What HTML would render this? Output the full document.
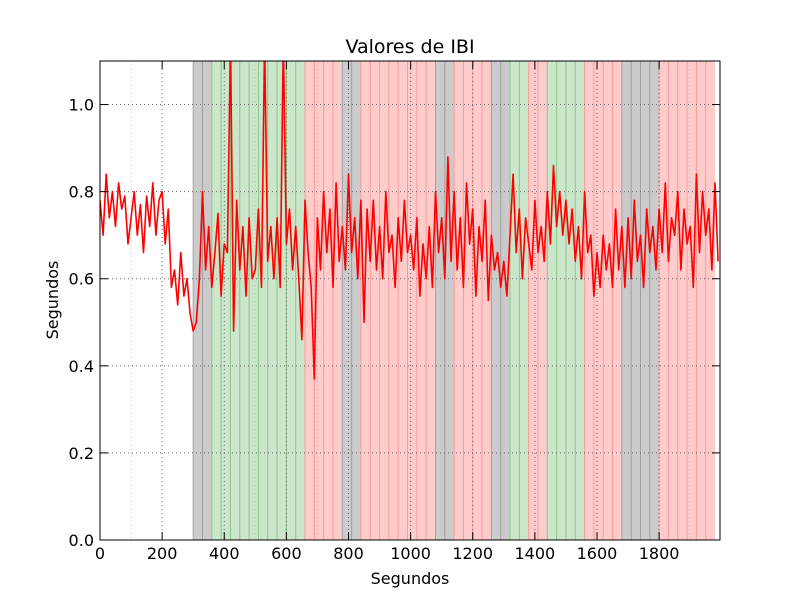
<!DOCTYPE html>
<html><head><meta charset="utf-8"><style>
body{margin:0;background:#fff;}
svg text{font-family:"DejaVu Sans","Liberation Sans",sans-serif;}
</style></head><body>
<svg id="chart" width="800" height="600" viewBox="0 0 800 600">
<rect width="800" height="600" fill="#fff"/>
<defs><clipPath id="clip"><rect x="100" y="61" width="620" height="479"/></clipPath></defs>
<g id="bands" clip-path="url(#clip)"></g>
<g id="grid"></g>
<g id="line" clip-path="url(#clip)"></g>
<rect x="100" y="61" width="620" height="479" fill="none" stroke="#000" stroke-width="1"/>
<g id="axes"></g>
<text x="410" y="53" font-size="19" text-anchor="middle">Valores de IBI</text>
<text x="410" y="584" font-size="16" text-anchor="middle">Segundos</text>
<text x="58" y="300" font-size="16" text-anchor="middle" transform="rotate(-90 58 300)">Segundos</text>
</svg>
<script>
const xTicks=[0,200,400,600,800,1000,1200,1400,1600,1800];
const yTicks=[0.0,0.2,0.4,0.6,0.8,1.0];
const segStart=300, segLen=30;
const segColors=['g','g','v','v','v','v','v','v','v','v','v','v','r','r','r','r','g','g','r','r','r','r','r','r','r','r','g','g','r','r','r','r','g','g','v','v','r','r','v','v','v','v','r','r','r','r','g','g','g','g','r','r','r','r','r','r'];
const ibi=[0.78,0.70,0.84,0.74,0.80,0.72,0.82,0.76,0.79,0.68,
0.74,0.80,0.70,0.77,0.66,0.79,0.72,0.82,0.70,0.78,
0.80,0.68,0.76,0.58,0.62,0.54,0.66,0.56,0.60,0.52,
0.48,0.50,0.60,0.80,0.62,0.72,0.58,0.66,0.75,0.56,
0.68,0.66,1.15,0.48,0.78,0.62,0.72,0.56,0.74,0.60,
0.62,0.76,0.58,1.15,0.64,0.72,0.60,0.74,0.58,1.15,
0.68,0.76,0.62,0.72,0.60,0.46,0.78,0.66,0.58,0.37,
0.74,0.62,0.80,0.66,0.76,0.58,0.82,0.64,0.72,0.62,
0.84,0.66,0.74,0.60,0.78,0.50,0.76,0.64,0.78,0.62,
0.72,0.60,0.80,0.66,0.70,0.58,0.74,0.64,0.78,0.66,
0.70,0.62,0.74,0.56,0.68,0.60,0.72,0.58,0.80,0.66,
0.74,0.60,0.88,0.64,0.80,0.62,0.74,0.58,0.82,0.68,
0.76,0.56,0.72,0.64,0.78,0.55,0.70,0.62,0.66,0.58,
0.64,0.56,0.70,0.84,0.66,0.76,0.60,0.74,0.68,0.62,
0.78,0.66,0.72,0.64,0.80,0.68,0.86,0.72,0.80,0.70,
0.78,0.68,0.76,0.64,0.72,0.60,0.80,0.66,0.70,0.56,
0.66,0.58,0.70,0.62,0.68,0.58,0.76,0.62,0.72,0.58,
0.74,0.60,0.78,0.64,0.70,0.58,0.76,0.66,0.72,0.62,
0.76,0.66,0.82,0.64,0.74,0.70,0.80,0.62,0.76,0.68,
0.72,0.58,0.84,0.66,0.80,0.70,0.76,0.62,0.82,0.64];
const sampleStep=10;
const X0=100,X1=720,XMAX=1996,Y0=540,Y1=61,YMAX=1.1;
const xs=v=>X0+v/XMAX*(X1-X0);
const ys=v=>Y0-v/YMAX*(Y0-Y1);
const NS='http://www.w3.org/2000/svg';
function mk(tag,attrs,parent){const e=document.createElementNS(NS,tag);for(const k in attrs)e.setAttribute(k,attrs[k]);parent.appendChild(e);return e;}
const fills={g:'#cbcbcb',v:'#cce6cc',r:'#ffcccc'};
const edges={g:'#a0a0a0',v:'#88c888',r:'#ff9a9a'};
const bands=document.getElementById('bands');
segColors.forEach((c,i)=>{
  const a=segStart+i*segLen,b=a+segLen;
  const r=mk('rect',{x:xs(a),y:61,width:xs(b)-xs(a),height:479,fill:fills[c]},bands);
  
  
  const l=mk('line',{x1:xs(a),x2:xs(a),y1:61,y2:540,stroke:edges[c],'stroke-width':1},bands);
  
  
});
const grid=document.getElementById('grid');
for(let v=100;v<XMAX;v+=100){
  const g=mk('line',{x1:xs(v),x2:xs(v),y1:61,y2:540,stroke:v%200?'#bbb':'#666','stroke-width':1,'stroke-dasharray':'1,3'},grid);
  
  
}
yTicks.slice(1).forEach(v=>{
  const g=mk('line',{x1:100,x2:720,y1:ys(v),y2:ys(v),stroke:'#666','stroke-width':1,'stroke-dasharray':'1,3'},grid);
  
  
});
const pts=ibi.map((v,i)=>xs(i*sampleStep).toFixed(1)+','+ys(v).toFixed(1)).join(' ');
const pl=mk('polyline',{points:pts,fill:'none',stroke:'#ff0000','stroke-width':1.6,'stroke-linejoin':'round'},document.getElementById('line'));


const axes=document.getElementById('axes');
xTicks.forEach(v=>{
  const x=xs(v);
  mk('line',{x1:x,x2:x,y1:540,y2:532,stroke:'#000'},axes);
  mk('line',{x1:x,x2:x,y1:61,y2:69,stroke:'#000'},axes);
  const t=mk('text',{x:x,y:559,'font-size':16,'text-anchor':'middle'},axes);
  t.textContent=v;
  
  
});
yTicks.forEach(v=>{
  const y=ys(v);
  mk('line',{x1:100,x2:108,y1:y,y2:y,stroke:'#000'},axes);
  mk('line',{x1:712,x2:720,y1:y,y2:y,stroke:'#000'},axes);
  const t=mk('text',{x:94,y:y+6,'font-size':16,'text-anchor':'end'},axes);
  t.textContent=v.toFixed(1);
  
  
});
</script>
</body></html>
